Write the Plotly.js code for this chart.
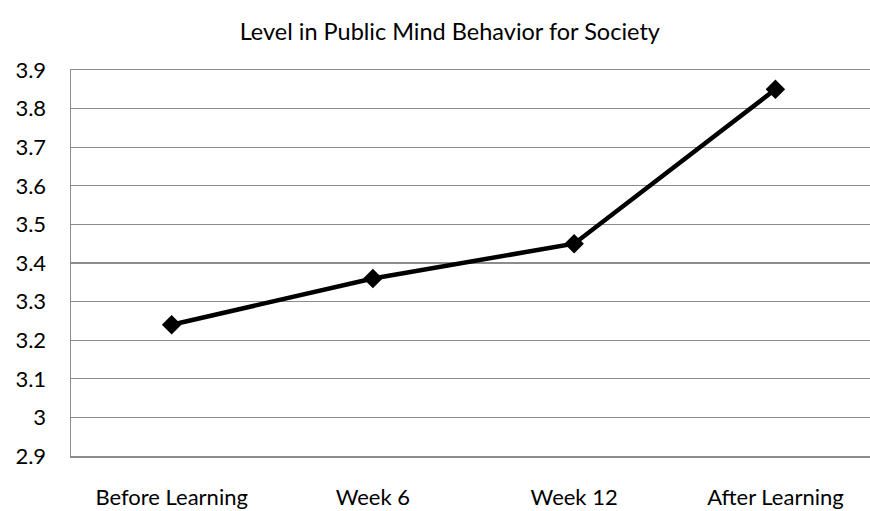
<!DOCTYPE html>
<html><head><meta charset="utf-8">
<script src="https://cdn.plot.ly/plotly-3.0.1.min.js"></script>
<style>html,body{margin:0;padding:0;background:#fff;}#chart{width:870px;height:511px;}</style>
</head><body><div id="chart"></div>
<script>
var categories = ["Before Learning", "Week 6", "Week 12", "After Learning"];
var values = [3.24, 3.36, 3.45, 3.85];
var yTicks = [2.9, 3.0, 3.1, 3.2, 3.3, 3.4, 3.5, 3.6, 3.7, 3.8, 3.9];
var yTickLabels = ["2.9", "3", "3.1", "3.2", "3.3", "3.4", "3.5", "3.6", "3.7", "3.8", "3.9"];
var titleText = "Level in Public Mind Behavior for Society";

var trace = {
  x: categories, y: values, type: "scatter", mode: "lines+markers",
  line: {color: "#000", width: 4.5},
  marker: {symbol: "diamond", size: 15, color: "#000"},
  hoverinfo: "none"
};
var font = "Lato, 'Open Sans', sans-serif";
var layout = {
  width: 870, height: 511,
  margin: {l: 71, r: 0, t: 70, b: 55, pad: 0},
  paper_bgcolor: "#fff", plot_bgcolor: "#fff",
  showlegend: false,
  title: {text: titleText, font: {family: font, size: 23.5, color: "#000"}, x: 0.517, xanchor: "center", y: 0.938, yanchor: "middle"},
  xaxis: {
    type: "category", range: [-0.5, 3.47],
    showgrid: false, zeroline: false, showline: true, mirror: true,
    linecolor: "#8c8c8c", linewidth: 1.5,
    ticks: "", ticklabelstandoff: 21,
    tickfont: {family: font, size: 22, color: "#000"}, fixedrange: true
  },
  yaxis: {
    range: [2.9, 3.9], tickvals: yTicks, ticktext: yTickLabels,
    showgrid: true, gridcolor: "#8c8c8c", gridwidth: 1.3,
    zeroline: false, showline: true, linecolor: "#8c8c8c", linewidth: 1.5,
    ticks: "", ticklabelstandoff: 19,
    tickfont: {family: font, size: 22, color: "#000"}, fixedrange: true
  }
};
Plotly.newPlot("chart", [trace], layout, {displayModeBar: false, staticPlot: true});
</script></body></html>
